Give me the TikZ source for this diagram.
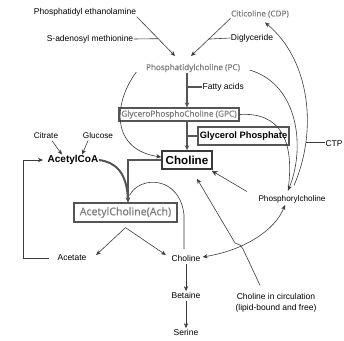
\documentclass[tikz,border=0pt]{standalone}
\usepackage{fontspec}
\setmainfont{Liberation Sans}
\newfontfamily\noto{Noto Sans}[FakeBold=0.7]
\usetikzlibrary{arrows.meta,calc}
\definecolor{txtgray}{HTML}{7E7E7E}
\definecolor{ln}{HTML}{3A3A3A}
\definecolor{boxc}{HTML}{555555}
\tikzset{
 lbl/.style={inner sep=0.5pt, font=\fontsize{8.5}{11}\selectfont},
 slbl/.style={inner sep=0.5pt, font=\fontsize{8.2}{10}\selectfont},
 glbl/.style={inner sep=0.5pt, text=txtgray, font=\noto\fontsize{8.1}{9.6}\selectfont},
 blbl/.style={inner sep=0.5pt, text=black},
 bx/.style={draw=boxc, line width=1.2pt, inner sep=0pt},
 thin/.style={draw=ln, line width=0.6pt},
 arr/.style={thin, -{Stealth[length=5pt,width=4.2pt]}},
 darr/.style={thin, {Stealth[length=5pt,width=4.2pt]}-{Stealth[length=5pt,width=4.2pt]}},
 thk/.style={draw=boxc, line width=1.5pt},
 tarr/.style={thk, -{Stealth[length=5pt,width=4.5pt]}},
}
\begin{document}
\begin{tikzpicture}[x=1pt,y=-1pt]
\useasboundingbox (0,0) rectangle (344,340);
% labels
\node[lbl] (pe) at (85,12) {Phosphatidyl ethanolamine};
\node[glbl] (cdp) at (260,14) {Citicoline (CDP)};
\node[lbl] (sam) at (90,39) {S-adenosyl methionine};
\node[lbl] (dig) at (252,38) {Diglyceride};
\node[glbl] (pc) at (193,68) {Phosphatidylcholine (PC)};
\node[lbl, anchor=west] (fa) at (202,87) {Fatty acids};
\node[glbl, bx, minimum width=120pt, minimum height=13pt, font=\noto\fontsize{8.2}{9.6}\selectfont] (gpc) at (179,114.5) {GlyceroPhosphoCholine (GPC)};
\node[blbl, bx, minimum width=91pt, minimum height=18pt, font=\bfseries\fontsize{9.3}{10}\selectfont] (gp) at (243.5,136) {Glycerol Phosphate};
\node[blbl, bx, draw=ln, line width=1.5pt, minimum width=50pt, minimum height=18pt, font=\bfseries\fontsize{11.6}{13}\selectfont] (ch) at (187,160) {Choline};
\node[slbl] (cit) at (46,136) {Citrate};
\node[slbl] (glu) at (98,136) {Glucose};
\node[blbl, font=\bfseries\fontsize{10}{12}\selectfont] (acoa) at (73,160) {AcetylCoA};
\node[glbl, bx, minimum width=103pt, minimum height=19pt, font=\noto\fontsize{10.5}{12}\selectfont] (ach) at (125.5,212.5) {AcetylCholine(Ach)};
\node[slbl] (phc) at (292,199) {Phosphorylcholine};
\node[lbl] (ctp) at (334,144) {CTP};
\node[lbl] (acet) at (72,258) {Acetate};
\node[lbl] (ch2) at (186,258) {Choline};
\node[lbl] (bet) at (186,295) {Betaine};
\node[lbl] (ser) at (186,332) {Serine};
\node[lbl, align=center] (circ) at (276,302.5) {Choline in circulation\\(lipid-bound and free)};
% top synthesis
\coordinate (pcA) at (175,56);
\coordinate (pcB) at (191,56);
\draw[arr] (pe.south east) -- (pcA);
\draw[thin] (sam.east) -- ($(pe.south east)!0.56!(pcA)$);
\draw[arr] (cdp.south west) -- (pcB);
\draw[thin] (dig.west) -- ($(cdp.south west)!0.55!(pcB)$);
% PC -> GPC -> Choline
\draw[tarr] (pc.south -| ch.north) -- (gpc.north -| ch.north);
\draw[thk] (ch.north |- fa.west) -- (fa.west);
\draw[tarr] (gpc.south -| ch.north) -- (ch.north);
\draw[thk] (ch.north |- gp.west) -- (gp.west);
% PC -> Choline (left curve)
\draw[arr] ([xshift=-9pt,yshift=-4pt]pc.west) .. controls (112,105) and (112,150) .. ([yshift=3pt]ch.west);
% PC, GPC -> Phosphorylcholine
\coordinate (phA) at ([xshift=-4pt,yshift=4pt]phc.north);
\draw[arr] ([xshift=9pt,yshift=-2pt]pc.east) .. controls (300,85) and (305,150) .. (phA);
\draw[thin] (gpc.east) .. controls (280,112) and (295,140) .. (phA);
% Phosphorylcholine -> CDP with CTP
\coordinate (phB) at ([xshift=2pt,yshift=9pt]phc.north);
\coordinate (cdpA) at ([xshift=5pt,yshift=-4pt]cdp.south);
\draw[arr] (phB) .. controls (318,130) and (310,60) .. (cdpA) coordinate[pos=0.25] (ctpj);
\draw[thin] (ctpj) -- (ctpj -| ctp.west);
% Phosphorylcholine -> Choline
\draw[thin, -{Stealth[length=6pt,width=5.5pt]}] ([xshift=-11pt,yshift=3pt]phc.north west) -- ([xshift=-1pt,yshift=-1pt]ch.south east);
% circulation -> Choline
\coordinate (chB) at ([xshift=10pt,yshift=-9pt]ch.south);
\draw[arr] ([xshift=-16pt,yshift=7pt]circ.north) -- (243,249) -- (240,245) -- (235,243) -- (chB);
% Choline (lower) <-> Phosphorylcholine
\draw[darr] ([xshift=1.5pt,yshift=1pt]ch2.east) .. controls (245,250) and (275,230) .. ([xshift=-7pt,yshift=-1.5pt]phc.south);
% Choline -> Ach, AcetylCoA -> Ach
\draw[tarr] (ch.west) -| ([xshift=2.5pt]ach.north);
\draw[draw=boxc, line width=2pt, -{Stealth[length=5pt,width=4.5pt]}] (acoa.east) .. controls (115,162) and (127,172) .. ([xshift=2.5pt]ach.north);
% arc from Ach down to lower Choline
\coordinate (arcEnd) at ([xshift=-2pt,yshift=5pt]ch2.north);
\draw[thin] ([xshift=4pt,yshift=7pt]ach.north) .. controls (140,175) and (180,176) .. (arcEnd |- 0,215) -- (arcEnd);
% Ach hydrolysis
\coordinate (achB) at ([yshift=-5pt]ach.south);
\draw[arr] (achB) -- ([xshift=9pt,yshift=3pt]acet.east);
\draw[arr] (achB) -- ([xshift=-5pt,yshift=3pt]ch2.west);
% Acetate -> AcetylCoA
\draw[arr] ([xshift=-8pt]acet.west) -- (23,258) |- ([xshift=-4pt]acoa.west);
% Citrate, Glucose -> AcetylCoA
\draw[arr] ([xshift=6pt,yshift=-1pt]cit.south) -- ([xshift=-11pt]acoa.north);
\draw[arr] ([xshift=-10pt,yshift=-1pt]glu.south) -- ([xshift=9pt]acoa.north);
% Choline -> Betaine -> Serine
\draw[arr, shorten <=2pt] (ch2.south) -- (bet.north);
\draw[arr, shorten <=2pt] (bet.south) -- (ser.north);
\end{tikzpicture}
\end{document}
